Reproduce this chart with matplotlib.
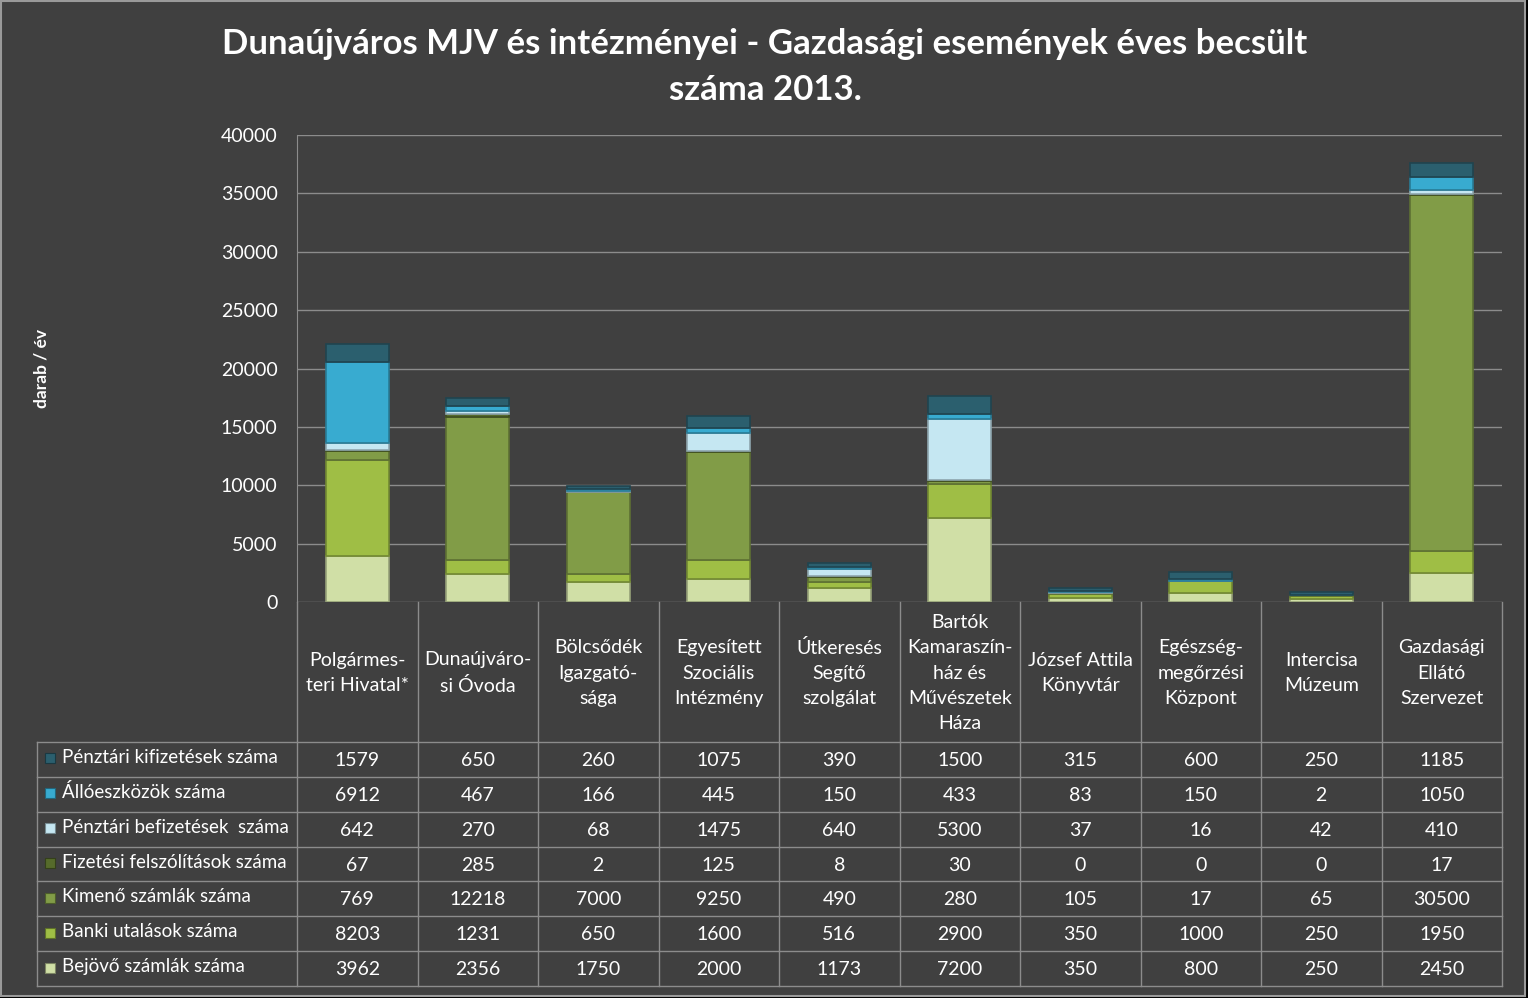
import matplotlib.pyplot as plt
import matplotlib.colors as mcolors
from matplotlib.patches import Rectangle
import numpy as np

plt.rcParams['font.family'] = ['Lato', 'DejaVu Sans']

# data
categories = ["Polgármes-\nteri Hivatal*", "Dunaújváro-\nsi Óvoda", "Bölcsődék\nIgazgató-\nsága",
              "Egyesített\nSzociális\nIntézmény", "Útkeresés\nSegítő\nszolgálat",
              "Bartók\nKamaraszín-\nház és\nMűvészetek\nHáza", "József Attila\nKönyvtár",
              "Egészség-\nmegőrzési\nKözpont", "Intercisa\nMúzeum", "Gazdasági\nEllátó\nSzervezet"]

# stack order, bottom -> top
series_names = ["Bejövő számlák száma", "Banki utalások száma", "Kimenő számlák száma",
                "Fizetési felszólítások száma", "Pénztári befizetések  száma",
                "Állóeszközök száma", "Pénztári kifizetések száma"]
bejovo = [3962, 2356, 1750, 2000, 1173, 7200, 350, 800, 250, 2450]
banki = [8203, 1231, 650, 1600, 516, 2900, 350, 1000, 250, 1950]
kimeno = [769, 12218, 7000, 9250, 490, 280, 105, 17, 65, 30500]
fizetesi = [67, 285, 2, 125, 8, 30, 0, 0, 0, 17]
befizetes = [642, 270, 68, 1475, 640, 5300, 37, 16, 42, 410]
alloeszkoz = [6912, 467, 166, 445, 150, 433, 83, 150, 2, 1050]
kifizetes = [1579, 650, 260, 1075, 390, 1500, 315, 600, 250, 1185]
series = [bejovo, banki, kimeno, fizetesi, befizetes, alloeszkoz, kifizetes]
colors = ['#d0dfa6', '#9fbe45', '#819c47', '#566b2b', '#c5e7f2', '#38abd0', '#2b5f6e']

W, H = 1528, 998
bg = '#404040'
grid_c = '#8c8c8c'

fig = plt.figure(figsize=(W / 100, H / 100), dpi=100, facecolor='black')
fig.patches.append(Rectangle((1 / W, 2 / H), 1524 / W, 995 / H, transform=fig.transFigure,
                             facecolor=bg, edgecolor='#9a9a9a', lw=1.5, zorder=-10))

# plot area in pixel terms
px_l, px_r, px_t, px_b = 297, 1502, 135, 602
ax = fig.add_axes([px_l / W, (H - px_b) / H, (px_r - px_l) / W, (px_b - px_t) / H])
ax.set_facecolor('none')

x = np.arange(len(categories))
bottom = np.zeros(len(categories))
for vals, col in zip(series, colors):
    vals = np.array(vals, dtype=float)
    edge = tuple(c * 0.72 for c in mcolors.to_rgb(col))
    ax.bar(x, vals, 0.52, bottom=bottom, color=col, edgecolor=edge, lw=1.2, zorder=3)
    bottom += vals

ax.set_xlim(-0.5, len(categories) - 0.5)
ax.set_ylim(0, 40000)
ax.set_yticks(np.arange(0, 40001, 5000))
ax.set_xticks([])
ax.yaxis.grid(True, color=grid_c, lw=1, zorder=0)
for s in ['top', 'right', 'bottom']:
    ax.spines[s].set_visible(False)
ax.spines['left'].set_color(grid_c)
ax.tick_params(axis='y', length=0, pad=14, labelsize=14, labelcolor='white')
ax.set_ylabel('darab / év', color='white', fontsize=12.5, fontweight='bold')
ax.yaxis.set_label_coords(-(px_l - 50) / (px_r - px_l), 0.5)

fig.text(765 / W, 1 - 44 / H, 'Dunaújváros MJV és intézményei - Gazdasági események éves becsült',
         color='white', fontsize=25, fontweight='bold', ha='center', va='center')
fig.text(765 / W, 1 - 90 / H, 'száma 2013.', color='white', fontsize=25, fontweight='bold',
         ha='center', va='center')

# data table
t_l, t_b = 37, 986
tax = fig.add_axes([t_l / W, (H - t_b) / H, (px_r - t_l) / W, (t_b - px_b) / H])
tax.set_xlim(t_l, px_r)
tax.set_ylim(t_b, px_b)
tax.set_facecolor('none')
tax.axis('off')

col_w = (px_r - px_l) / len(categories)
head_b = 742
row_h = (t_b - head_b) / len(series)
for i in range(len(categories) + 1):
    tax.plot([px_l + i * col_w] * 2, [px_b, t_b], color=grid_c, lw=1, clip_on=False)
tax.plot([t_l, t_l], [head_b, t_b], color=grid_c, lw=1, clip_on=False)
for k in range(len(series) + 1):
    tax.plot([t_l, px_r], [head_b + k * row_h] * 2, color=grid_c, lw=1, clip_on=False)

for i, cat in enumerate(categories):
    tax.text(px_l + (i + 0.5) * col_w, (px_b + head_b) / 2 + 1, cat, color='white', fontsize=14,
             ha='center', va='center', linespacing=1.6)

for r, si in enumerate(range(len(series) - 1, -1, -1)):
    yc = head_b + (r + 0.5) * row_h
    tax.add_patch(Rectangle((45, yc - 6), 10, 10, facecolor=colors[si],
                            edgecolor=tuple(c * 0.6 for c in mcolors.to_rgb(colors[si])), lw=0.8))
    tax.text(62, yc - 2, series_names[si], color='white', fontsize=13.5, ha='left', va='center')
    for i, v in enumerate(series[si]):
        tax.text(px_l + (i + 0.5) * col_w, yc + 1, str(v), color='white', fontsize=14,
                 ha='center', va='center')

fig.savefig('out.png', dpi=100, facecolor=fig.get_facecolor())
